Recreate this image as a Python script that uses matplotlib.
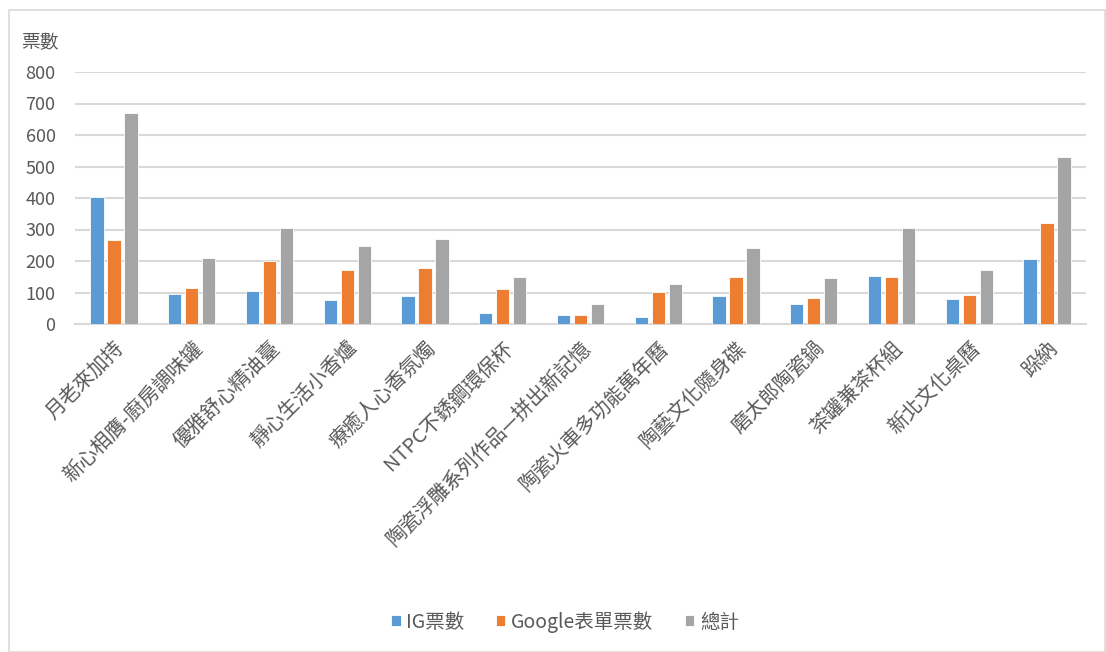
import matplotlib
matplotlib.use("Agg")
import matplotlib.pyplot as plt
import numpy as np
from matplotlib.patches import Rectangle

plt.rcParams['font.family'] = ['Noto Sans CJK TC', 'DejaVu Sans']

categories = ["月老來加持", "新心相膺-廚房調味罐", "優雅舒心精油臺", "靜心生活小香爐",
              "療癒人心香氛燭", "NTPC不銹鋼環保杯", "陶瓷浮雕系列作品—拼出新記憶",
              "陶瓷火車多功能萬年曆", "陶藝文化隨身碟", "磨太郎陶瓷鍋", "茶罐兼茶杯組",
              "新北文化桌曆", "跺納"]
ig_votes = [403, 95, 105, 76, 90, 36, 30, 23, 89, 64, 152, 78, 206]
google_votes = [267, 114, 200, 171, 178, 112, 30, 103, 150, 82, 148, 91, 322]
totals = [670, 210, 305, 248, 270, 149, 62, 127, 240, 147, 304, 173, 530]
series_names = ["IG票數", "Google表單票數", "總計"]
yticks = [0, 100, 200, 300, 400, 500, 600, 700, 800]

colors = ["#5B9BD5", "#ED7D31", "#A5A5A5"]

fig = plt.figure(figsize=(11.06, 6.52), dpi=100)
fig.patches.append(Rectangle((9/1106, 0.0), (1105-9)/1106, (652-10)/652,
                             transform=fig.transFigure, fill=False,
                             edgecolor="#D9D9D9", linewidth=1.2))
ax = fig.add_axes([75/1106, 1 - 324/652, (1086-75)/1106, (324-72)/652])

x = np.arange(len(categories))
w = 0.171
step = 0.219
for i, (vals, name) in enumerate(zip([ig_votes, google_votes, totals], series_names)):
    ax.bar(x + (i - 1) * step, vals, width=w, color=colors[i], label=name,
           edgecolor="white", linewidth=0.6, zorder=3)

ax.set_xlim(-0.5, len(categories) - 0.5)
ax.set_ylim(0, 800)
ax.set_yticks(yticks)
ax.set_yticklabels([str(v) for v in yticks], fontsize=13, color="#595959")
ax.yaxis.grid(True, color="#D9D9D9", linewidth=1.5, zorder=0)
ax.tick_params(axis='y', length=0, pad=14)
ax.tick_params(axis='x', length=0, pad=10)
for s in ["top", "right", "left"]:
    ax.spines[s].set_visible(False)
ax.spines["bottom"].set_color("#D9D9D9")
ax.spines["bottom"].set_linewidth(1.5)

ax.set_xticks(x)
ax.set_xticklabels(categories, rotation=45, ha="right", va="top",
                   rotation_mode="anchor", fontsize=14.5, color="#595959")

fig.text(21/1106, 1 - 43/652, "票數", fontsize=13.5, color="#595959", va="center", ha="left")

handles, labels = ax.get_legend_handles_labels()
fig.legend(handles, labels, loc="center", bbox_to_anchor=(565/1106, 1 - 622/652),
           ncol=3, frameon=False, fontsize=14, handlelength=0.5, handleheight=0.5,
           handletextpad=0.3, columnspacing=1.6, labelcolor="#595959")

fig.savefig("out.png", dpi=100)
